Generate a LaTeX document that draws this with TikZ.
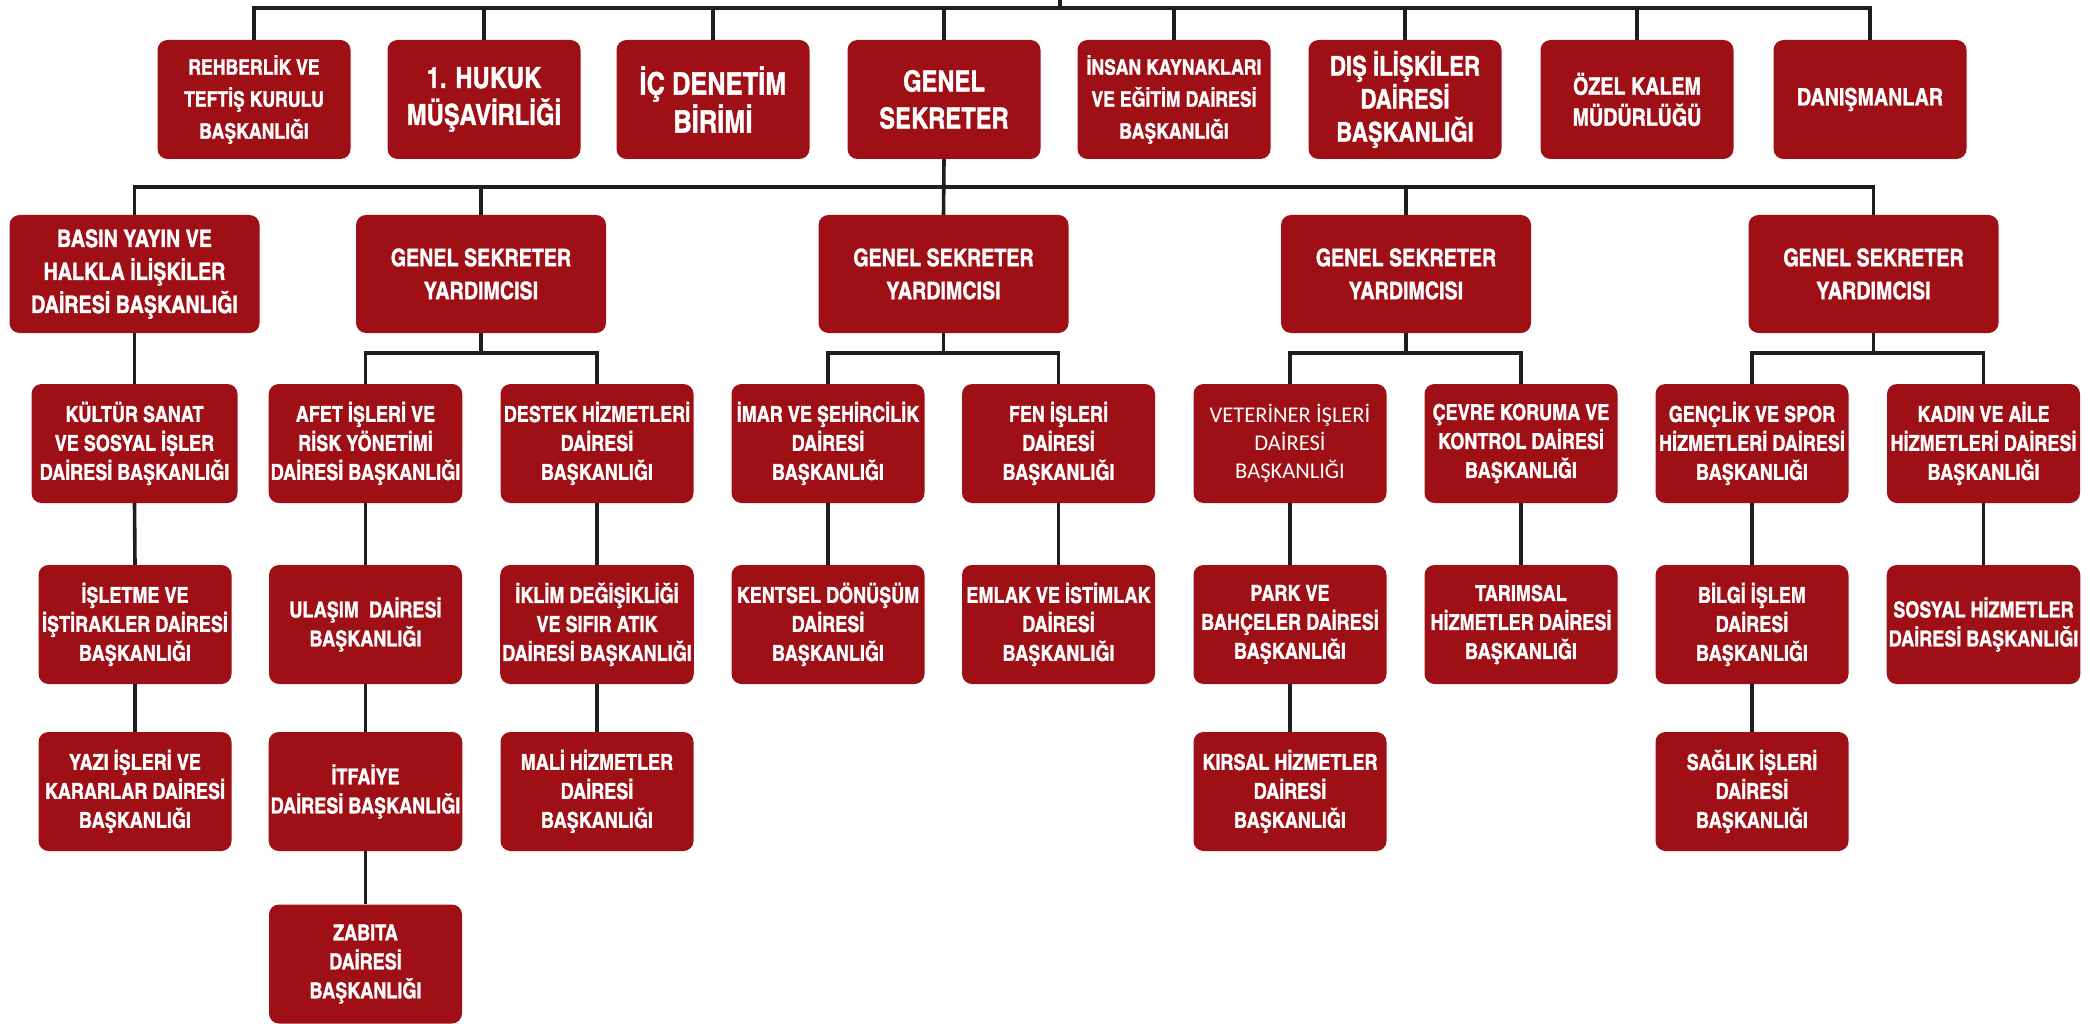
\documentclass[tikz,border=0pt]{standalone}
\usepackage{fontspec}
\usepackage{tikz}
\usetikzlibrary{calc}

\newfontfamily\cnfont{texgyreheroscn-bold}[Extension=.otf, FakeBold=1.2]
\newfontfamily\vetfont{Carlito}
\definecolor{deptred}{RGB}{158,16,22}
\definecolor{wirec}{RGB}{30,30,30}

\begin{document}
\begin{tikzpicture}[x=1pt, y=-1pt,
  dept/.style={rectangle, fill=deptred, rounded corners=10pt, text=white,
               minimum width=193pt, minimum height=119pt, inner sep=2pt,
               align=center, font=\cnfont\fontsize{22}{29}\selectfont},
  deptL/.style={dept, font=\cnfont\fontsize{29}{37}\selectfont},
  deptM/.style={dept, font=\cnfont\fontsize{24}{31}\selectfont},
  deptS/.style={dept, font=\cnfont\fontsize{21.5}{32}\selectfont},
  gsy/.style={dept, minimum width=250pt, minimum height=118pt,
              font=\cnfont\fontsize{24}{33}\selectfont},
  wire/.style={draw=wirec, line width=3.6pt}
]
\useasboundingbox (0,0) rectangle (2090,1024);

% first row
\node[deptS] (reh) at (254, 99.5)  {REHBERLİK VE\\TEFTİŞ KURULU\\BAŞKANLIĞI};
\node[deptL] (huk) at (484, 99.5)  {1. HUKUK\\MÜŞAVİRLİĞİ};
\node[deptL, font=\cnfont\fontsize{31}{38}\selectfont]
             (ic)  at (713, 99.5)  {İÇ DENETİM\\BİRİMİ};
\node[deptL] (gs)  at (944, 99.5)  {GENEL\\SEKRETER};
\node[deptS] (ik)  at (1174, 99.5) {İNSAN KAYNAKLARI\\VE EĞİTİM DAİRESİ\\BAŞKANLIĞI};
\node[dept, font=\cnfont\fontsize{27}{33}\selectfont]
           (dis) at (1405, 99.5) {DIŞ İLİŞKİLER\\DAİRESİ\\BAŞKANLIĞI};
\node[deptM] (oz)  at (1637, 99.5) {ÖZEL KALEM\\MÜDÜRLÜĞÜ};
\node[deptM] (dan) at (1870, 99.5) {DANIŞMANLAR};

% second row
\node[gsy] (basin) at (134.5, 274) {BASIN YAYIN VE\\HALKLA İLİŞKİLER\\DAİRESİ BAŞKANLIĞI};
\node[gsy] (gsy1)  at (481, 274)   {GENEL SEKRETER\\YARDIMCISI};
\node[gsy] (gsy2)  at (943.5, 274) {GENEL SEKRETER\\YARDIMCISI};
\node[gsy] (gsy3)  at (1406, 274)  {GENEL SEKRETER\\YARDIMCISI};
\node[gsy] (gsy4)  at (1873.5, 274) {GENEL SEKRETER\\YARDIMCISI};

% third row
\node[dept, minimum width=206pt] (kultur) at (134.5, 443.5) {KÜLTÜR SANAT\\VE SOSYAL İŞLER\\DAİRESİ BAŞKANLIĞI};
\node[dept] (afet)   at (365.5, 443.5)  {AFET İŞLERİ VE\\RİSK YÖNETİMİ\\DAİRESİ BAŞKANLIĞI};
\node[dept] (destek) at (597, 443.5)    {DESTEK HİZMETLERİ\\DAİRESİ\\BAŞKANLIĞI};
\node[dept] (imar)   at (828, 443.5)    {İMAR VE ŞEHİRCİLİK\\DAİRESİ\\BAŞKANLIĞI};
\node[dept] (fen)    at (1058.5, 443.5) {FEN İŞLERİ\\DAİRESİ\\BAŞKANLIĞI};
\node[dept, font=\vetfont\fontsize{22.5}{28}\selectfont]
            (vet)    at (1290, 443.5)   {VETERİNER İŞLERİ\\DAİRESİ\\BAŞKANLIĞI};
\node[dept] (cevre)  at (1521, 443.5)   {ÇEVRE KORUMA VE\\KONTROL DAİRESİ\\BAŞKANLIĞI};
\node[dept] (genc)   at (1752, 443.5)   {GENÇLİK VE SPOR\\HİZMETLERİ DAİRESİ\\BAŞKANLIĞI};
\node[dept] (kadin)  at (1983.5, 443.5) {KADIN VE AİLE\\HİZMETLERİ DAİRESİ\\BAŞKANLIĞI};

% fourth row
\node[dept] (islet)   at (135, 624.5)    {İŞLETME VE\\İŞTİRAKLER DAİRESİ\\BAŞKANLIĞI};
\node[dept] (ulasim)  at (365.5, 624.5)  {ULAŞIM~~DAİRESİ\\BAŞKANLIĞI};
\node[dept] (iklim)   at (597, 624.5)    {İKLİM DEĞİŞİKLİĞİ\\VE SIFIR ATIK\\DAİRESİ BAŞKANLIĞI};
\node[dept] (kentsel) at (828, 624.5)    {KENTSEL DÖNÜŞÜM\\DAİRESİ\\BAŞKANLIĞI};
\node[dept] (emlak)   at (1058.5, 624.5) {EMLAK VE İSTİMLAK\\DAİRESİ\\BAŞKANLIĞI};
\node[dept] (park)    at (1290, 624.5)   {PARK VE\\BAHÇELER DAİRESİ\\BAŞKANLIĞI};
\node[dept] (tarim)   at (1521, 624.5)   {TARIMSAL\\HİZMETLER DAİRESİ\\BAŞKANLIĞI};
\node[dept] (bilgi)   at (1752, 624.5)   {BİLGİ İŞLEM\\DAİRESİ\\BAŞKANLIĞI};
\node[dept] (sosyal)  at (1983.5, 624.5) {SOSYAL HİZMETLER\\DAİRESİ BAŞKANLIĞI};

% fifth and sixth rows
\node[dept] (yazi)    at (135, 791.5)   {YAZI İŞLERİ VE\\KARARLAR DAİRESİ\\BAŞKANLIĞI};
\node[dept] (itfaiye) at (365.5, 791.5) {İTFAİYE\\DAİRESİ BAŞKANLIĞI};
\node[dept] (mali)    at (597, 791.5)   {MALİ HİZMETLER\\DAİRESİ\\BAŞKANLIĞI};
\node[dept] (kirsal)  at (1290, 791.5)  {KIRSAL HİZMETLER\\DAİRESİ\\BAŞKANLIĞI};
\node[dept] (saglik)  at (1752, 791.5)  {SAĞLIK İŞLERİ\\DAİRESİ\\BAŞKANLIĞI};
\node[dept] (zabita)  at (365.5, 964)   {ZABITA\\DAİRESİ\\BAŞKANLIĞI};

% top bus
\coordinate (top) at (1060, 0);
\coordinate (hub) at (1060, 8);
\draw[wire] (top) -- (hub);
\draw[wire] (reh.north) |- (hub) -| (dan.north);
\foreach \n in {huk, ic, gs, ik, dis, oz}
  \draw[wire] (\n.north) -- (\n.north |- hub);

% second bus
\draw[wire] (gs.south) -- (gsy2.north);
\draw[wire] (basin.north) |- ($(gs.south)!0.5!(gsy2.north)$) -| (gsy4.north);
\foreach \n in {gsy1, gsy3}
  \draw[wire] (\n.north) -- ++(0,-28);

% branches below the deputies
\draw[wire] (gsy1.south) -- ++(0,20);
\draw[wire] (afet.north) |- ($(gsy1.south)+(0,20)$) -| (destek.north);
\draw[wire] (gsy2.south) -- ++(0,20);
\draw[wire] (imar.north) |- ($(gsy2.south)+(0,20)$) -| (fen.north);
\draw[wire] (gsy3.south) -- ++(0,20);
\draw[wire] (vet.north) |- ($(gsy3.south)+(0,20)$) -| (cevre.north);
\draw[wire] (gsy4.south) -- ++(0,20);
\draw[wire] (genc.north) |- ($(gsy4.south)+(0,20)$) -| (kadin.north);

% vertical chains
\draw[wire] (basin.south) -- (kultur.north);
\draw[wire] (kultur.south) -- (islet.north);
\draw[wire] (islet.south) -- (yazi.north);
\draw[wire] (afet.south) -- (ulasim.north);
\draw[wire] (ulasim.south) -- (itfaiye.north);
\draw[wire] (itfaiye.south) -- (zabita.north);
\draw[wire] (destek.south) -- (iklim.north);
\draw[wire] (iklim.south) -- (mali.north);
\draw[wire] (imar.south) -- (kentsel.north);
\draw[wire] (fen.south) -- (emlak.north);
\draw[wire] (vet.south) -- (park.north);
\draw[wire] (park.south) -- (kirsal.north);
\draw[wire] (cevre.south) -- (tarim.north);
\draw[wire] (genc.south) -- (bilgi.north);
\draw[wire] (bilgi.south) -- (saglik.north);
\draw[wire] (kadin.south) -- (sosyal.north);
\end{tikzpicture}
\end{document}
